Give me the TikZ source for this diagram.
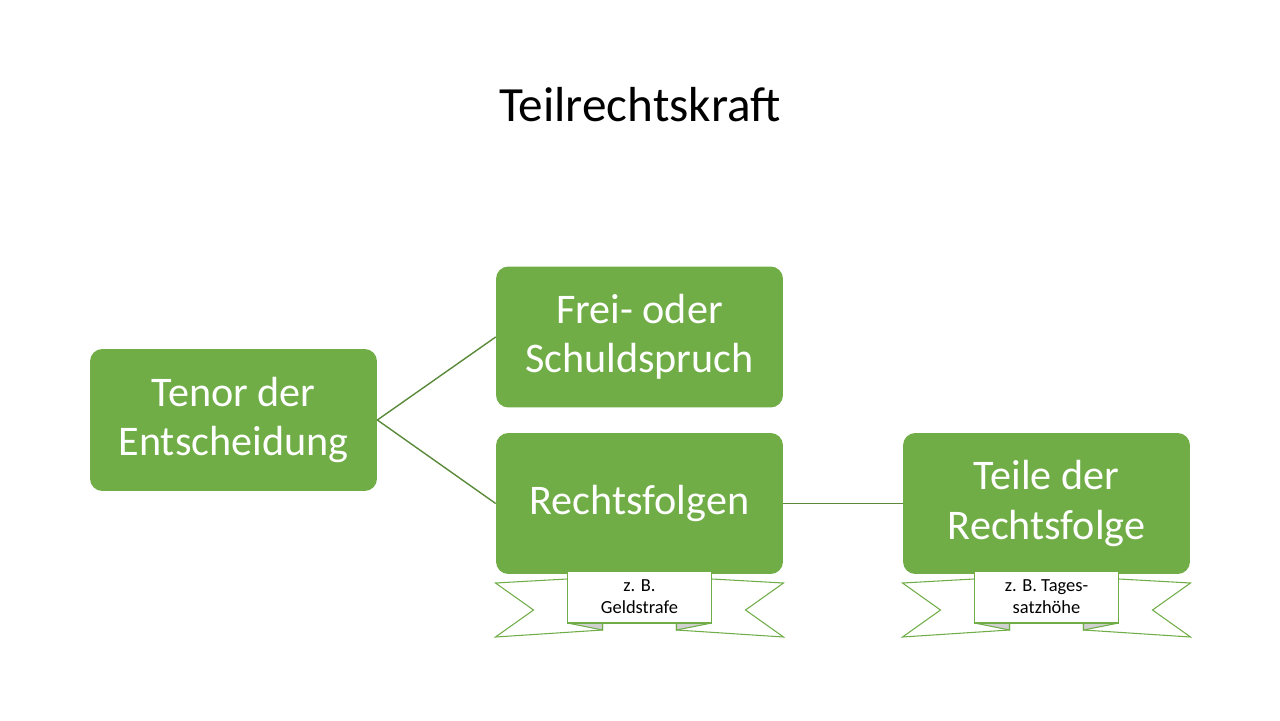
\documentclass[tikz,border=0pt]{standalone}
\usepackage{fontspec}
\setmainfont{Carlito}
\definecolor{gr}{HTML}{70AD47}
\definecolor{fold}{HTML}{D0D0D0}
\begin{document}
\begin{tikzpicture}[x=0.02cm,y=-0.02cm,
 box/.style={fill=gr,rounded corners=7pt,text=white,font=\fontsize{24}{28}\selectfont,align=center,inner sep=0pt},
 con/.style={draw=gr!80!black,line width=0.8pt},
 rib/.style={draw=gr,fill=white,line width=0.6pt},
 rtext/.style={font=\fontsize{10.5}{12.5}\selectfont,align=center}]
\useasboundingbox (0,0) rectangle (1280,720);
\node[font=\fontsize{28}{32}\selectfont] (title) at (640,105) {Teilrechtskraft};
\newcommand{\ribbon}[3]{% center x, name, text
 \begin{scope}[shift={(#1,0)}]
 \draw[rib] (-144,583)--(-37,577)--(-37,630)--(-144,637)--(-106,610)--cycle;
 \draw[rib] (144,583)--(37,577)--(37,630)--(144,637)--(106,610)--cycle;
 \draw[rib,fill=fold] (-72,623)--(-37,630)--(-37,623)--cycle;
 \draw[rib,fill=fold] (72,623)--(37,630)--(37,623)--cycle;
 \node[rib,minimum width=2.88cm,minimum height=1.04cm,inner sep=0pt,rtext] (#2) at (0,597) {#3};
 \end{scope}}
\node[box,minimum width=5.74cm,minimum height=2.84cm] (tenor) at (233.5,420) {Tenor der\\Entscheidung};
\node[box,minimum width=5.74cm,minimum height=2.82cm] (frei) at (639.5,337) {Frei- oder\\Schuldspruch};
\node[box,minimum width=5.74cm,minimum height=2.82cm] (rf) at (639.5,503.5) {Rechtsfolgen};
\node[box,minimum width=5.74cm,minimum height=2.82cm] (teile) at (1046.5,503.5) {Teile der\\Rechtsfolge};
\draw[con] (tenor.east) -- (frei.west);
\draw[con] (tenor.east) -- (rf.west);
\draw[con] (rf.east) -- (teile.west);
\ribbon{639.5}{r1}{z. B.\\Geldstrafe}
\ribbon{1046.5}{r2}{z. B. Tages-\\satzhöhe}
\end{tikzpicture}
\end{document}
